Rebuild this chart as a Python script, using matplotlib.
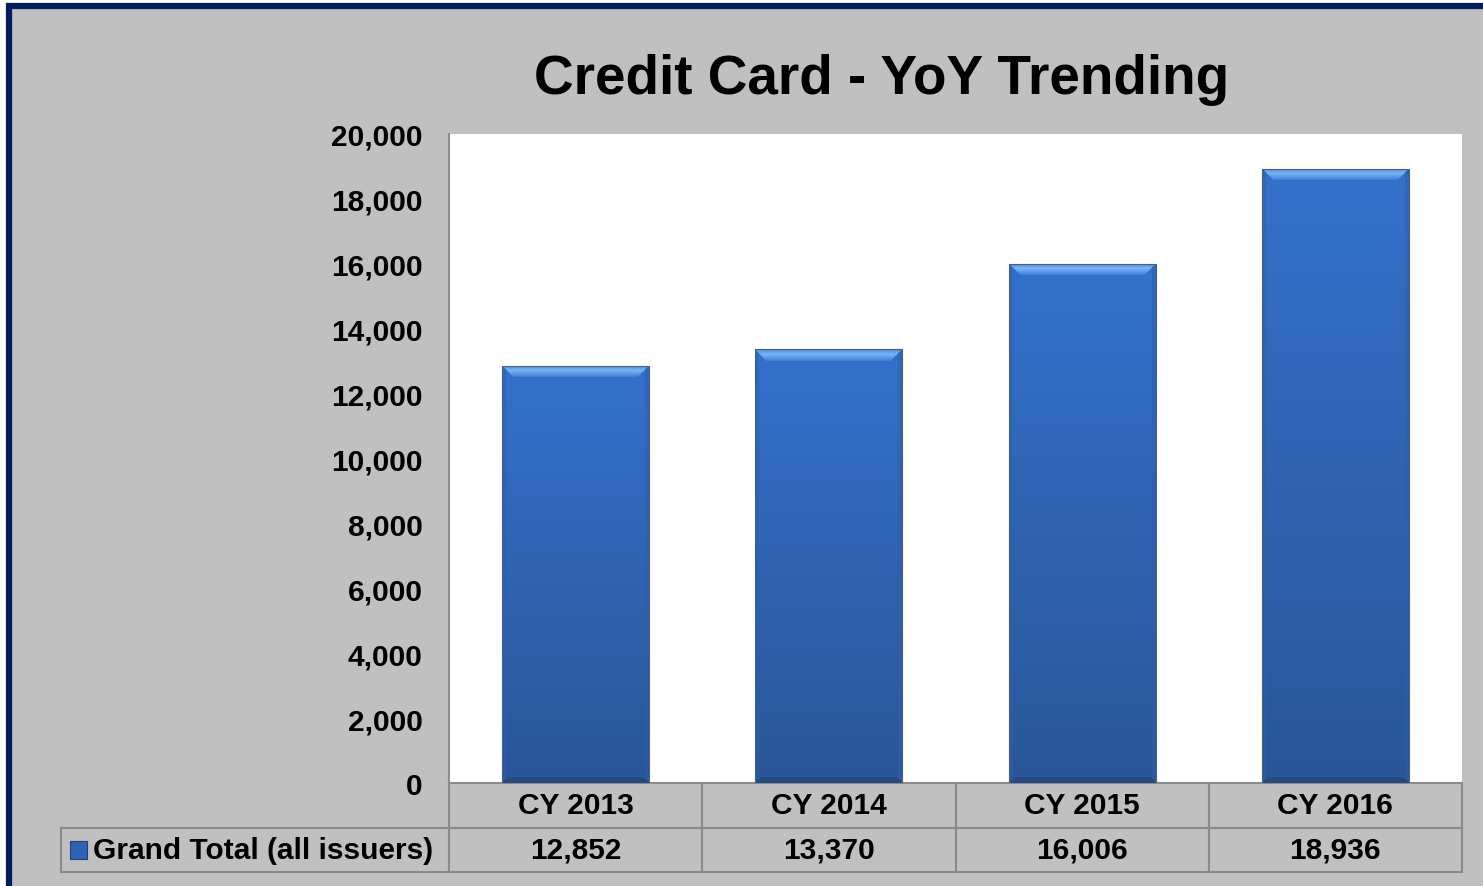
import matplotlib.pyplot as plt
import matplotlib
import numpy as np
from matplotlib.patches import Rectangle
from matplotlib.ticker import FuncFormatter
from matplotlib.colors import to_rgb

matplotlib.rcParams['font.family'] = ['Liberation Sans', 'DejaVu Sans']
matplotlib.rcParams['font.weight'] = 'bold'

# data
years = ['CY 2013', 'CY 2014', 'CY 2015', 'CY 2016']
totals = [12852, 13370, 16006, 18936]
series_name = 'Grand Total (all issuers)'

GRAY = '#C0C0C0'
NAVY = '#001E5E'

fig = plt.figure(figsize=(14.83, 8.87), dpi=100, facecolor='white')

# gray panel with navy frame (only top and left edges visible)
fig.patches.append(Rectangle((9 / 1483, -0.1), 1.2, 880 / 887 + 0.1,
                             transform=fig.transFigure, facecolor=GRAY,
                             edgecolor=NAVY, linewidth=4.5, zorder=-5))

ax = fig.add_axes([449 / 1483, 103 / 887, 1013 / 1483, 649 / 887])
ax.set_facecolor('white')

x = np.arange(len(years))
bars = ax.bar(x, totals, width=0.58, color='none', edgecolor='#4A5F80',
              linewidth=0.8, zorder=3)

ax.set_xlim(-0.5, len(years) - 0.5)
ax.set_ylim(0, 20000)
ax.set_yticks(np.arange(0, 20001, 2000))
ax.yaxis.set_major_formatter(FuncFormatter(lambda v, p: f'{int(v):,}'))
ax.tick_params(axis='y', length=0, pad=19, labelsize=21.5)
ax.set_xticks([])
for s in ['top', 'right', 'bottom']:
    ax.spines[s].set_visible(False)
ax.spines['left'].set_color('#8C8C8C')
ax.spines['left'].set_linewidth(1.5)

fig.canvas.draw()


def bar_image(w, h):
    # bevelled blue gradient, built per pixel
    top_light = np.array(to_rgb('#78B4F6'))
    top_edge = np.array(to_rgb('#4F8ADB'))
    top_low = np.array(to_rgb('#3C7AD4'))
    body_top = np.array(to_rgb('#3471CC'))
    body_bot = np.array(to_rgb('#2A5698'))
    side = np.array(to_rgb('#2B5EAB'))
    bottom = np.array(to_rgb('#244A84'))
    img = np.zeros((h, w, 3))
    rows = np.arange(h)[:, None] * np.ones((1, w))
    cols = np.ones((h, 1)) * np.arange(w)[None, :]
    dt = rows
    db = h - 1 - rows
    ds = np.minimum(cols, w - 1 - cols)
    t = rows / max(h - 1, 1)
    body = body_top[None, None, :] * (1 - t[..., None]) + body_bot[None, None, :] * t[..., None]
    img[:] = body
    sm = ds < 4
    img[sm] = side * 0.5 + img[sm] * 0.5
    bm = (db < 6) & (db <= ds)
    img[bm] = bottom
    b = 12
    tm = (dt < b) & (dt <= ds)
    f = dt / b
    bev = np.where(f[..., None] < 0.4,
                   top_edge + (top_light - top_edge) * (f[..., None] / 0.4),
                   top_light + (top_low - top_light) * ((f[..., None] - 0.4) / 0.6))
    img[tm] = bev[tm]
    return img


for bar in bars:
    bb = bar.get_window_extent()
    w = max(int(round(bb.width)), 2)
    h = max(int(round(bb.height)), 2)
    im = ax.imshow(bar_image(w, h), extent=[bar.get_x(), bar.get_x() + bar.get_width(),
                                          0, bar.get_height()],
                   aspect='auto', zorder=2, interpolation='bilinear')
    im.set_clip_path(bar)

ax.set_xlim(-0.5, len(years) - 0.5)
ax.set_ylim(0, 20000)

# data table under the axis (first column holds the series label)
label_w = 388 / 1013
table_h = 89 / 649
tbl = ax.table(cellText=[[series_name] + [f'{v:,}' for v in totals]],
               colLabels=[''] + years, cellLoc='center',
               colWidths=[label_w] + [0.25] * len(years),
               bbox=[-label_w, -table_h, 1 + label_w, table_h])
tbl.auto_set_font_size(False)
tbl.set_fontsize(21.5)
for (r, c), cell in tbl.get_celld().items():
    cell.set_facecolor(GRAY)
    cell.set_edgecolor('#8A8A8A')
    cell.set_linewidth(1.5)
    cell.get_text().set_fontweight('bold')
    if c == 0:
        if r == 0:
            cell.set_visible(False)
        else:
            cell.set_text_props(ha='left')
            cell._loc = 'left'
            cell.PAD = 0.082

# legend key in the row label
ax.add_patch(Rectangle((-0.374, -0.117), 0.0168, 0.0277, transform=ax.transAxes,
                       facecolor='#2F63B5', edgecolor='#1E3F78', linewidth=0.8,
                       clip_on=False, zorder=5))

fig.text(882 / 1483, 1 - 94 / 887, 'Credit Card - YoY Trending', ha='center',
         va='baseline', fontsize=39.5, fontweight='bold')

fig.savefig('out.png', dpi=100, facecolor=fig.get_facecolor())
